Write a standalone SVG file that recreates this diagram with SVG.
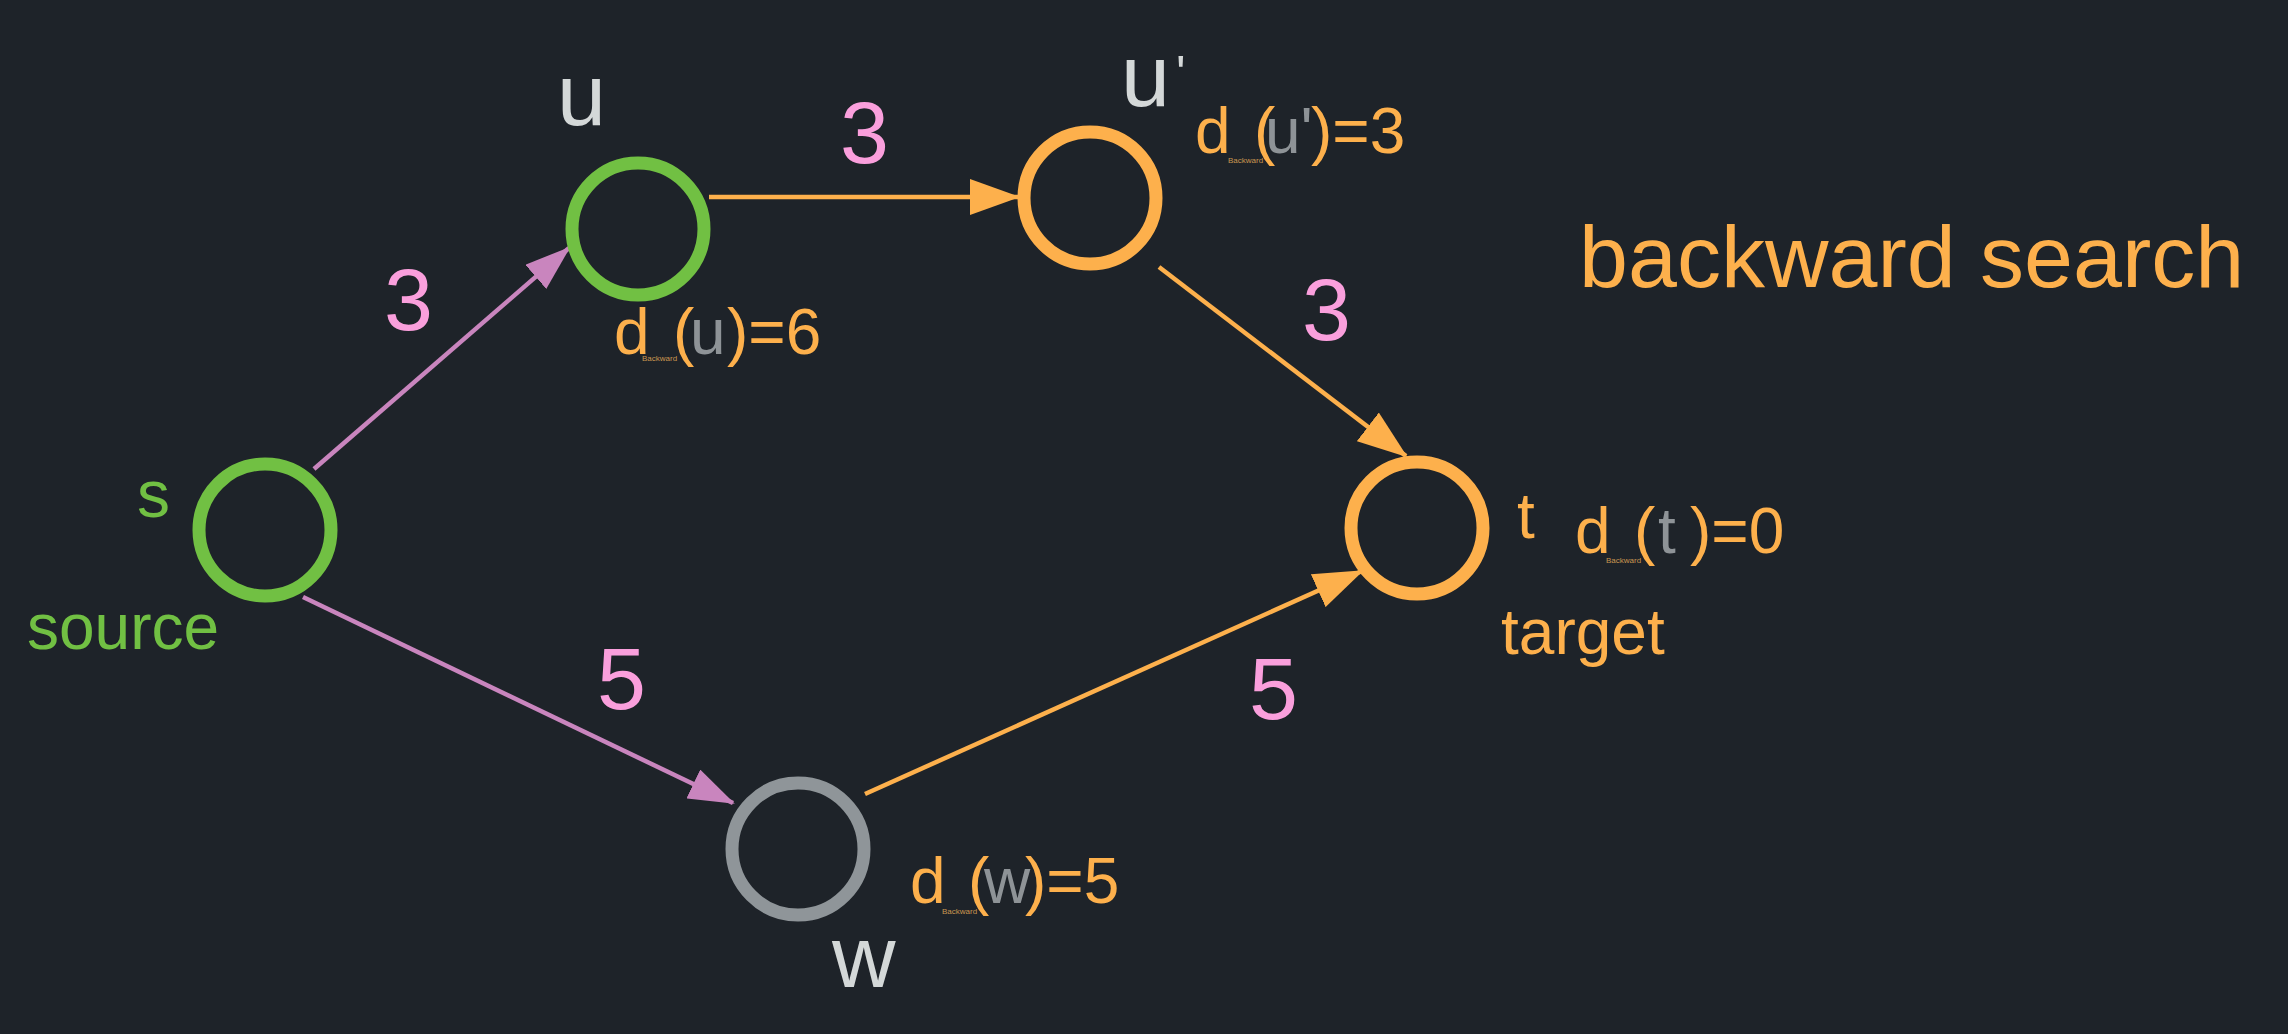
<svg xmlns="http://www.w3.org/2000/svg" width="2288" height="1034" viewBox="0 0 2288 1034">
<defs>
<style>
text{font-family:"Liberation Sans",Arial,sans-serif}
.node{fill:none;stroke-width:13}
.edge{fill:none;stroke-width:4.5}
.name{fill:#d4d8d8;font-size:88px}
.num{fill:#fa9fdc;font-size:88px}
.orange{fill:#fdb04c}
.green{fill:#71c043}
.gray{fill:#8e9397}
.lbl{font-size:64px}
.sub{fill:#c99650;font-size:8px}
</style>
<marker id="ahO" markerUnits="userSpaceOnUse" markerWidth="50" markerHeight="36" refX="48" refY="18" orient="auto" viewBox="0 0 50 36"><path d="M0,0 L50,18 L0,36 z" fill="#fdb04c"/></marker>
<marker id="ahP" markerUnits="userSpaceOnUse" markerWidth="46" markerHeight="32" refX="44" refY="16" orient="auto" viewBox="0 0 46 32"><path d="M0,0 L46,16 L0,32 z" fill="#c985be"/></marker>
</defs>
<rect width="2288" height="1034" fill="#1e2329"/>
<g id="connectors">
<line class="edge" x1="314" y1="469" x2="569" y2="248" stroke="#c985be" marker-end="url(#ahP)"/>
<line class="edge" x1="709" y1="197" x2="1018" y2="197" stroke="#fdb04c" marker-end="url(#ahO)"/>
<line class="edge" x1="1159" y1="267" x2="1406" y2="456" stroke="#fdb04c" marker-end="url(#ahO)"/>
<line class="edge" x1="303" y1="597" x2="733" y2="803" stroke="#c985be" marker-end="url(#ahP)"/>
<line class="edge" x1="865" y1="794" x2="1362" y2="571" stroke="#fdb04c" marker-end="url(#ahO)"/>
<text class="num" x="384" y="330">3</text>
<text class="num" x="840" y="163">3</text>
<text class="num" x="1302" y="340">3</text>
<text class="num" x="597" y="709">5</text>
<text class="num" x="1249" y="719">5</text>
</g>
<g id="node-s">
<circle class="node" cx="265" cy="530" r="66" stroke="#71c043"/>
<text class="green" x="137" y="517" font-size="66">s</text>
<text class="green" x="27" y="649" font-size="64">source</text>
</g>
<g id="node-u">
<circle class="node" cx="638" cy="229" r="66" stroke="#71c043"/>
<text class="name" x="557" y="125">u</text>
<text class="lbl" y="354"><tspan class="orange" x="614">d</tspan><tspan class="orange" x="673">(</tspan><tspan class="gray" x="690">u</tspan><tspan class="orange" x="727">)=6</tspan></text>
<text class="sub" x="642" y="361">Backward</text>
</g>
<g id="node-u2">
<circle class="node" cx="1090" cy="198" r="66" stroke="#fdb04c"/>
<text class="name" x="1121" y="106">u</text>
<text class="name" x="1176" y="91" style="font-size:50px">'</text>
<text class="lbl" y="153"><tspan class="orange" x="1195">d</tspan><tspan class="orange" x="1254">(</tspan><tspan class="gray" x="1265">u'</tspan><tspan class="orange" x="1311">)=3</tspan></text>
<text class="sub" x="1228" y="163">Backward</text>
</g>
<g id="node-t">
<circle class="node" cx="1417" cy="528" r="66" stroke="#fdb04c"/>
<text class="orange" x="1517" y="538" font-size="64">t</text>
<text class="orange" x="1501" y="654" font-size="64">target</text>
<text class="lbl" y="553"><tspan class="orange" x="1575">d</tspan><tspan class="orange" x="1634">(</tspan><tspan class="gray" x="1658">t</tspan><tspan class="orange" x="1690">)=0</tspan></text>
<text class="sub" x="1606" y="563">Backward</text>
</g>
<g id="node-w">
<circle class="node" cx="798" cy="849" r="66" stroke="#8f9599"/>
<text class="name" x="832" y="987">w</text>
<text class="lbl" y="903"><tspan class="orange" x="910">d</tspan><tspan class="orange" x="968">(</tspan><tspan class="gray" x="984">w</tspan><tspan class="orange" x="1025">)=5</tspan></text>
<text class="sub" x="942" y="914">Backward</text>
</g>
<g id="title">
<text class="orange" x="1579" y="287" font-size="88">backward search</text>
</g>
</svg>
